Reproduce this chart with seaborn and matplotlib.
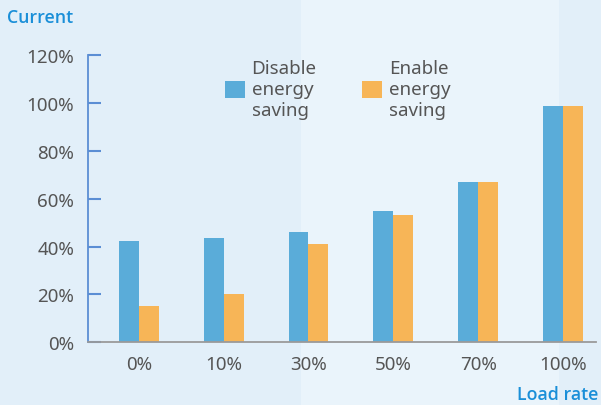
import matplotlib
matplotlib.use("Agg")
import matplotlib.pyplot as plt
import matplotlib.patches as mpatches
import seaborn as sns
import pandas as pd

categories = ["0%", "10%", "30%", "50%", "70%", "100%"]
disable_vals = [42.5, 43.5, 46, 55, 67, 98.5]
enable_vals = [15, 20, 41, 53, 67, 98.5]
series_names = ["Disable\nenergy\nsaving", "Enable\nenergy\nsaving"]
ytick_vals = [0, 20, 40, 60, 80, 100, 120]
ytick_labels = ["0%", "20%", "40%", "60%", "80%", "100%", "120%"]
colors = ["#5aacd9", "#f7b557"]

df = pd.DataFrame({
    "cat": categories * 2,
    "val": disable_vals + enable_vals,
    "series": [series_names[0]] * len(categories) + [series_names[1]] * len(categories),
})

sns.set_style("white")
plt.rcParams["font.family"] = ["Noto Sans", "DejaVu Sans"]

bg = "#e2eff9"
fig = plt.figure(figsize=(6.01, 4.06), dpi=100, facecolor=bg)
# subtle lighter band on the right, as in the reference background
fig.patches.append(mpatches.Rectangle((0.5, 0), 0.43, 1, transform=fig.transFigure,
                                      facecolor="#eaf4fb", edgecolor="none", zorder=-1))
ax = fig.add_axes([0.1464, 0.1544, 0.8453, 0.7077])
ax.set_facecolor("none")

sns.barplot(data=df, x="cat", y="val", hue="series", order=categories,
            hue_order=series_names, palette=colors, width=0.47, gap=0,
            saturation=1, linewidth=0, edgecolor="none", ax=ax, legend=False)

ax.set_xlim(-0.6, 5.39)
ax.set_ylim(0, 120)
ax.set_yticks(ytick_vals)
ax.set_yticklabels(ytick_labels)
ax.set_xlabel("")
ax.set_ylabel("")

for s in ["top", "right"]:
    ax.spines[s].set_visible(False)
ax.spines["left"].set_color("#5b8ed4")
ax.spines["left"].set_linewidth(1.3)
ax.spines["bottom"].set_color("#9a9a9a")
ax.spines["bottom"].set_linewidth(1.3)

ax.tick_params(axis="y", left=True, direction="in", length=9, width=1.5, color="#5b8ed4",
               labelsize=13.5, labelcolor="#555555", pad=10)
ax.tick_params(axis="x", bottom=False, length=0, labelsize=13.5, labelcolor="#555555", pad=9)

handles = [mpatches.Patch(facecolor=c, edgecolor="none") for c in colors]
leg = ax.legend(handles, series_names, ncol=2, loc="upper left",
                bbox_to_anchor=(0.237, 1.045), frameon=False, fontsize=13.5,
                handlelength=1.05, handleheight=1.05, handletextpad=0.35,
                columnspacing=2.45, labelspacing=0.5)
for t in leg.get_texts():
    t.set_color("#555555")
    t.set_linespacing(1.2)

fig.text(0.012, 0.955, "Current", color="#1a8fd8", fontsize=12.8,
         fontweight="semibold", family=["Open Sans", "DejaVu Sans"], ha="left", va="center")
fig.text(0.995, 0.027, "Load rate", color="#1a8fd8", fontsize=12.8,
         fontweight="semibold", family=["Open Sans", "DejaVu Sans"], ha="right", va="center")

fig.savefig("out.png", dpi=100, facecolor=bg)
